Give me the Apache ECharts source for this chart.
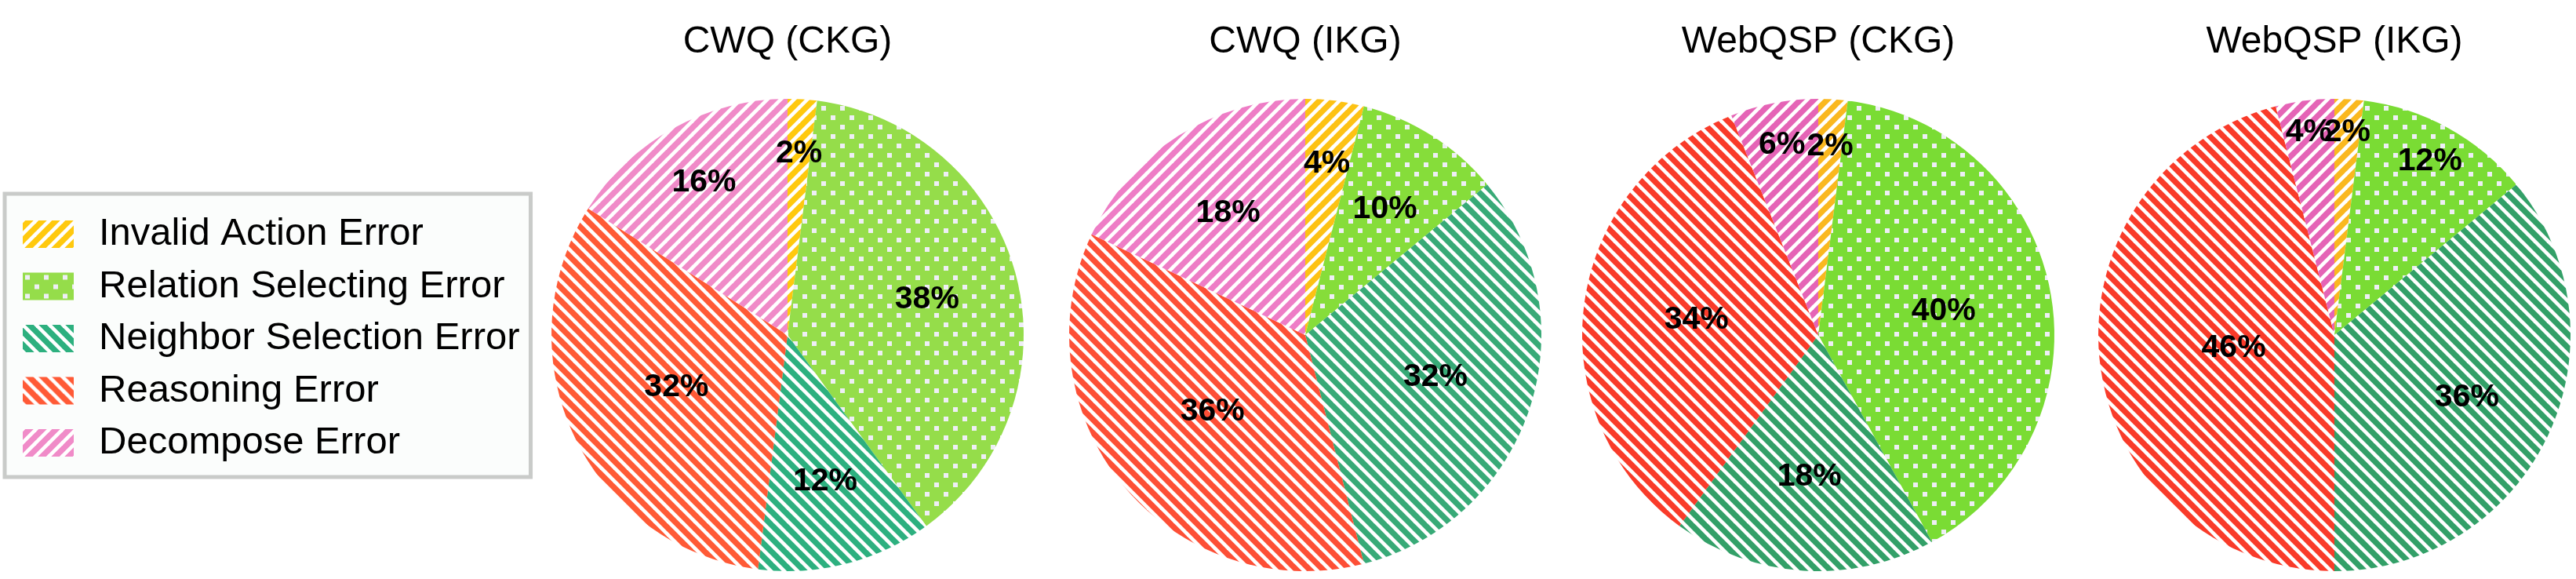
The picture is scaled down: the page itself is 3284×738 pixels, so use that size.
<!DOCTYPE html>
<html>
<head>
<meta charset="utf-8">
<script src="https://cdn.jsdelivr.net/npm/echarts@6/dist/echarts.min.js"></script>
<style>
  html, body { margin: 0; padding: 0; background: #ffffff; }
  #chart { width: 3284px; height: 738px; }
</style>
</head>
<body>
<div id="chart"></div>
<script>
// ---------------- data ----------------
const categories = ['Invalid Action Error', 'Relation Selecting Error', 'Neighbor Selection Error', 'Reasoning Error', 'Decompose Error'];
const pieTitles = ['CWQ (CKG)', 'CWQ (IKG)', 'WebQSP (CKG)', 'WebQSP (IKG)'];
const cwqCKG = [2, 38, 12, 32, 16];
const cwqIKG = [4, 10, 32, 36, 18];
const webqspCKG = [2, 40, 18, 34, 6];
const webqspIKG = [2, 12, 36, 46, 4];
const pieValues = [cwqCKG, cwqIKG, webqspCKG, webqspIKG];

// ---------------- styles ----------------
const FONT = '"Liberation Sans", Arial, Helvetica, sans-serif';
const paletteA = ['#FFC90E', '#95DD4A', '#2DB07F', '#FF5A36', '#F08BC8'];
const paletteB = ['#FDC214', '#86DD3A', '#38AA77', '#FD4F36', '#EE7DC6'];
const paletteC = ['#FAB81F', '#7ADC34', '#33A068', '#F93B2A', '#E564B6'];
const piePalettes = [paletteA, paletteB, paletteC, paletteC];
const hatchKinds = ['/', 'dots', '\\', '\\', '/'];
const labelRadiusFrac = [
  [0.77, 0.61, 0.64, 0.52, 0.735],
  [0.73, 0.63, 0.58, 0.51, 0.61],
  [0.80, 0.54, 0.60, 0.52, 0.82],
  [0.86, 0.84, 0.62, 0.43, 0.865]
];
const centersX = [1004, 1664, 2318, 2976];
const centerY = 427;
const pieR = 301;

function makePattern(color, kind) {
  const c = document.createElement('canvas');
  if (kind === 'dots') {
    const T = 24;
    c.width = T; c.height = T;
    const g = c.getContext('2d');
    g.fillStyle = color; g.fillRect(0, 0, T, T);
    g.fillStyle = '#EEEEF5';
    g.fillRect(3, 3, 6, 6);
    g.fillRect(15, 15, 6, 6);
  } else {
    const P = 17;
    c.width = P; c.height = P;
    const g = c.getContext('2d');
    g.fillStyle = color; g.fillRect(0, 0, P, P);
    g.strokeStyle = '#ffffff';
    g.lineWidth = 4.6;
    g.lineCap = 'square';
    for (let k = -1; k <= 1; k++) {
      g.beginPath();
      if (kind === '/') {
        g.moveTo(k * P, P); g.lineTo(k * P + P, 0);
      } else {
        g.moveTo(k * P, 0); g.lineTo(k * P + P, P);
      }
      g.stroke();
    }
  }
  return { image: c, repeat: 'repeat' };
}

const chart = echarts.init(document.getElementById('chart'), null, { renderer: 'canvas' });

function labelLayoutFor(si) {
  return function (p) {
    const vals = pieValues[si];
    const total = vals.reduce((a, b) => a + b, 0);
    let cum = 0;
    for (let j = 0; j < p.dataIndex; j++) cum += vals[j];
    const mid = (cum + vals[p.dataIndex] / 2) / total * Math.PI * 2;
    const f = labelRadiusFrac[si][p.dataIndex];
    return {
      x: centersX[si] + f * pieR * Math.sin(mid),
      y: centerY - f * pieR * Math.cos(mid),
      align: 'center',
      verticalAlign: 'middle'
    };
  };
}

const series = pieValues.map((vals, si) => ({
  type: 'pie',
  center: [centersX[si], centerY],
  radius: pieR,
  startAngle: 90,
  clockwise: true,
  avoidLabelOverlap: false,
  silent: true,
  animation: false,
  data: vals.map((v, j) => ({
    name: categories[j],
    value: v,
    itemStyle: { color: makePattern(piePalettes[si][j], hatchKinds[j]) }
  })),
  itemStyle: { borderWidth: 0 },
  label: {
    show: true,
    position: 'inside',
    formatter: '{c}%',
    fontSize: 41,
    fontWeight: 'bold',
    color: '#000',
    fontFamily: FONT
  },
  labelLine: { show: false },
  labelLayout: labelLayoutFor(si),
  emphasis: { disabled: true }
}));

const titles = pieTitles.map((t, i) => ({
  text: t,
  left: centersX[i],
  top: 30,
  textAlign: 'center',
  padding: 0,
  textStyle: { fontSize: 48, fontWeight: 'normal', color: '#000', fontFamily: FONT }
}));

chart.setOption({
  backgroundColor: '#ffffff',
  animation: false,
  title: titles,
  legend: {
    orient: 'vertical',
    left: 6,
    top: 247,
    data: categories,
    icon: 'rect',
    itemWidth: 65,
    itemHeight: 35,
    itemGap: 17.5,
    selectedMode: false,
    padding: [27, 14, 19, 23],
    borderWidth: 5,
    borderColor: '#C9CBC9',
    backgroundColor: '#FBFDFC',
    borderRadius: 0,
    textStyle: {
      fontSize: 49,
      color: '#000',
      fontFamily: FONT,
      padding: [0, 0, 0, 27]
    }
  },
  series: series
});
</script>
</body>
</html>
